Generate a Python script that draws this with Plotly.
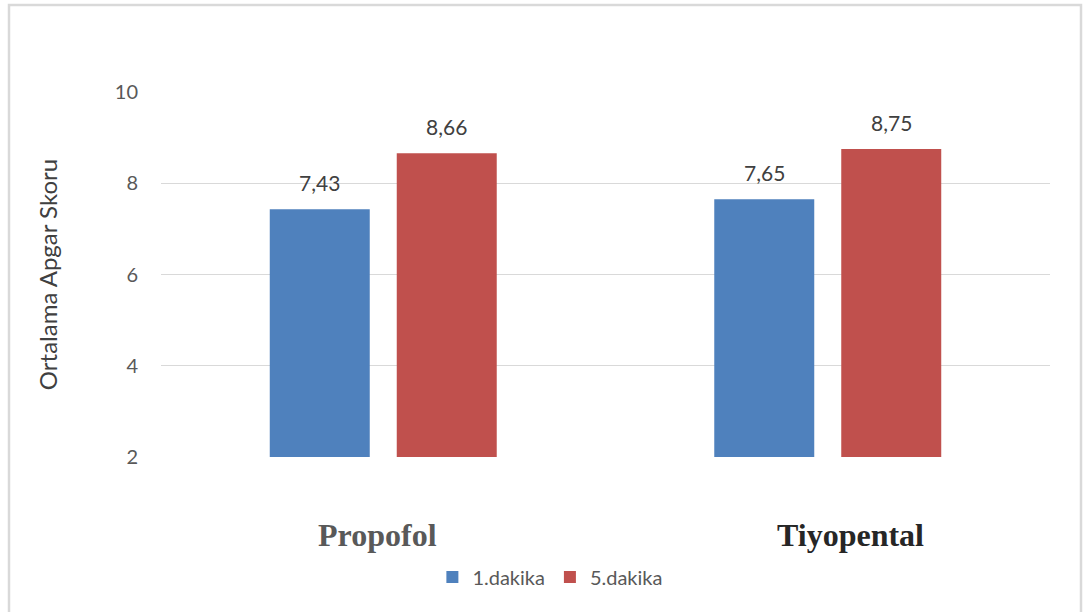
import plotly.graph_objects as go

categories = ["Propofol", "Tiyopental"]
category_colors = ["#595959", "#262626"]
series_names = ["1.dakika", "5.dakika"]
dakika1 = [7.43, 7.65]
dakika5 = [8.66, 8.75]
series_colors = ["#4F81BD", "#C0504D"]
y_ticks = [2, 4, 6, 8, 10]

SANS = "Lato, Open Sans, sans-serif"
SERIF = "Liberation Serif, Times New Roman, serif"


def fmt(v):
    return f"{v:.2f}".replace(".", ",")


fig = go.Figure()
for name, vals, col in zip(series_names, [dakika1, dakika5], series_colors):
    fig.add_trace(go.Bar(
        x=categories, y=vals, name=name,
        marker=dict(color=col, line=dict(width=0)),
    ))

# value labels above each bar (shifted to the bar's slot in its group)
annotations = []
for shift, vals in zip([-63.5, 63.5], [dakika1, dakika5]):
    for cat, v in zip(categories, vals):
        annotations.append(dict(
            x=cat, y=v, xref="x", yref="y", text=fmt(v), showarrow=False,
            xshift=shift, yshift=12, yanchor="bottom",
            font=dict(family=SANS, size=21, color="#404040"),
        ))

# bold category names beneath the axis
for cat, col, shift in zip(categories, category_colors, [-5.5, 22.5]):
    annotations.append(dict(
        x=cat, y=-0.2137, xref="x", yref="paper", text=f"<b>{cat}</b>",
        showarrow=False, xshift=shift, yanchor="middle",
        font=dict(family=SERIF, size=32, color=col),
    ))

fig.update_layout(
    width=1084, height=612,
    margin=dict(l=161, r=34, t=92, b=155),
    paper_bgcolor="white", plot_bgcolor="white",
    barmode="group", bargap=0.4286, bargroupgap=0.2126,
    showlegend=True,
    legend=dict(orientation="h", x=0.438, xanchor="center", y=-0.329, yanchor="middle",
                font=dict(family=SANS, size=20, color="#595959"),
                itemwidth=30, traceorder="normal"),
    xaxis=dict(tickvals=categories, showticklabels=False,
               showline=False, showgrid=False, ticks=""),
    yaxis=dict(
        range=[2, 10], tickvals=y_ticks, ticktext=[str(v) for v in y_ticks],
        showgrid=True, gridcolor="#D9D9D9", gridwidth=1.3, zeroline=False, showline=False,
        tickfont=dict(family=SANS, size=20, color="#595959"),
        ticklabelstandoff=22,
        title=dict(text="Ortalama Apgar Skoru", standoff=50,
                   font=dict(family=SANS, size=24, color="#404040")),
    ),
    annotations=annotations,
    shapes=[dict(type="rect", xref="paper", yref="paper",
                 x0=(9 - 161) / 889, x1=(1081 - 161) / 889,
                 y0=(457 - 640) / 365, y1=(457 - 5) / 365,
                 line=dict(color="#D9D9D9", width=2.5), fillcolor="rgba(0,0,0,0)", layer="below")],
)

fig.write_html("out.html")
